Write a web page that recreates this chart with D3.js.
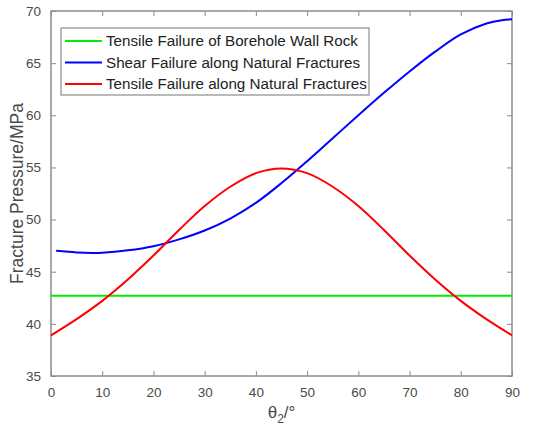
<!DOCTYPE html>
<html>
<head>
<meta charset="utf-8">
<script src="https://cdn.jsdelivr.net/npm/d3@7"></script>
<style>
  body { margin: 0; background: #fff; }
  svg { display: block; }
</style>
</head>
<body>
<svg id="chart" width="547" height="429"></svg>
<script>
// data (angle in degrees, pressure in MPa)
const seriesNames = [
  'Tensile Failure of Borehole Wall Rock',
  'Shear Failure along Natural Fractures',
  'Tensile Failure along Natural Fractures'
]
const seriesColors = ['#00ee00', '#0000ff', '#ff0000']

const boreholeAngle = [0, 90]
const boreholeValue = [42.7, 42.7]

const shearAngle = [1, 5, 8, 10, 15, 20, 25, 30, 35, 40, 45, 50, 55, 60, 65, 70, 75, 80, 85, 88, 90]
const shearValue = [47.0, 46.85, 46.8, 46.82, 47.05, 47.45, 48.1, 48.95, 50.1, 51.6, 53.5, 55.6, 57.8, 60.0, 62.15, 64.2, 66.1, 67.75, 68.8, 69.12, 69.2]

const tensileAngle = [0, 5, 10, 15, 20, 25, 30, 35, 40, 45, 50, 55, 60, 65, 70, 75, 80, 85, 90]
const tensileValue = [38.9, 40.45, 42.2, 44.25, 46.55, 49.0, 51.3, 53.15, 54.45, 54.9, 54.45, 53.15, 51.3, 49.0, 46.55, 44.25, 42.2, 40.45, 38.9]

const xTicks = [0, 10, 20, 30, 40, 50, 60, 70, 80, 90]
const yTicks = [35, 40, 45, 50, 55, 60, 65, 70]

const margin = { left: 51, right: 35, top: 11, bottom: 53 }
const width = 547, height = 429
const axisColor = '#8c8c8c'
const textColor = '#4a4a4a'
const font = 'Liberation Sans, Arial, sans-serif'

const svg = d3.select('#chart')

const x = d3.scaleLinear().domain([0, 90]).range([margin.left, width - margin.right])
const y = d3.scaleLinear().domain([35, 70]).range([height - margin.bottom, margin.top])

/****************************************************************
    Axes: MATLAB style box with inward ticks on every side
/****************************************************************/
function styleAxis(g, showText) {
  g.select('.domain').remove()
  g.selectAll('line').attr('stroke', axisColor).attr('stroke-width', 1)
  g.selectAll('text')
    .attr('fill', textColor)
    .style('font-family', font)
    .style('font-size', '13.5px')
    .style('display', showText ? null : 'none')
}

svg.append('g')
  .attr('transform', `translate(0,${y(35)})`)
  .call(d3.axisBottom(x).tickValues(xTicks).tickSize(-5).tickPadding(11))
  .call(g => styleAxis(g, true))

svg.append('g')
  .attr('transform', `translate(0,${y(70)})`)
  .call(d3.axisTop(x).tickValues(xTicks).tickSize(-5))
  .call(g => styleAxis(g, false))

svg.append('g')
  .attr('transform', `translate(${x(0)},0)`)
  .call(d3.axisLeft(y).tickValues(yTicks).tickSize(-5).tickPadding(10))
  .call(g => styleAxis(g, true))

svg.append('g')
  .attr('transform', `translate(${x(90)},0)`)
  .call(d3.axisRight(y).tickValues(yTicks).tickSize(-5))
  .call(g => styleAxis(g, false))

svg.append('rect')
  .attr('x', x(0)).attr('y', y(70))
  .attr('width', x(90) - x(0)).attr('height', y(35) - y(70))
  .attr('fill', 'none').attr('stroke', axisColor).attr('stroke-width', 1.5)

/****************************************************************
    Curves
/****************************************************************/
const line = d3.line()
  .x(d => x(d[0]))
  .y(d => y(d[1]))
  .curve(d3.curveCatmullRom.alpha(0.5))

const curves = [
  d3.zip(boreholeAngle, boreholeValue),
  d3.zip(shearAngle, shearValue),
  d3.zip(tensileAngle, tensileValue)
]

curves.forEach((pts, i) => {
  svg.append('path')
    .datum(pts)
    .attr('d', line)
    .attr('fill', 'none')
    .attr('stroke', seriesColors[i])
    .attr('stroke-width', 2)
})

/****************************************************************
    Legend
/****************************************************************/
const legend = svg.append('g')
legend.append('rect')
  .attr('x', 61).attr('y', 28)
  .attr('width', 308).attr('height', 67)
  .attr('fill', '#fff').attr('stroke', axisColor).attr('stroke-width', 1.2)

seriesNames.forEach((name, i) => {
  const ly = 41 + i * 21.5
  legend.append('line')
    .attr('x1', 65).attr('x2', 102)
    .attr('y1', ly).attr('y2', ly)
    .attr('stroke', seriesColors[i]).attr('stroke-width', 2)
  legend.append('text')
    .attr('x', 106).attr('y', ly)
    .attr('dy', '0.35em')
    .attr('fill', '#222')
    .style('font-family', font)
    .style('font-size', '15.2px')
    .text(name)
})

/****************************************************************
    Axis titles
/****************************************************************/
svg.append('text')
  .attr('transform', `translate(23,${(y(35) + y(70)) / 2}) rotate(-90)`)
  .attr('text-anchor', 'middle')
  .attr('fill', textColor)
  .style('font-family', font)
  .style('font-size', '17.5px')
  .text('Fracture Pressure/MPa')

const xTitle = svg.append('text')
  .attr('x', (x(0) + x(90)) / 2)
  .attr('y', 418)
  .attr('text-anchor', 'middle')
  .attr('fill', textColor)
  .style('font-family', font)
  .style('font-size', '17px')
xTitle.append('tspan').text('θ')
xTitle.append('tspan').attr('dy', 5).style('font-size', '12px').text('2')
xTitle.append('tspan').attr('dy', -5).text('/°')
</script>
</body>
</html>
